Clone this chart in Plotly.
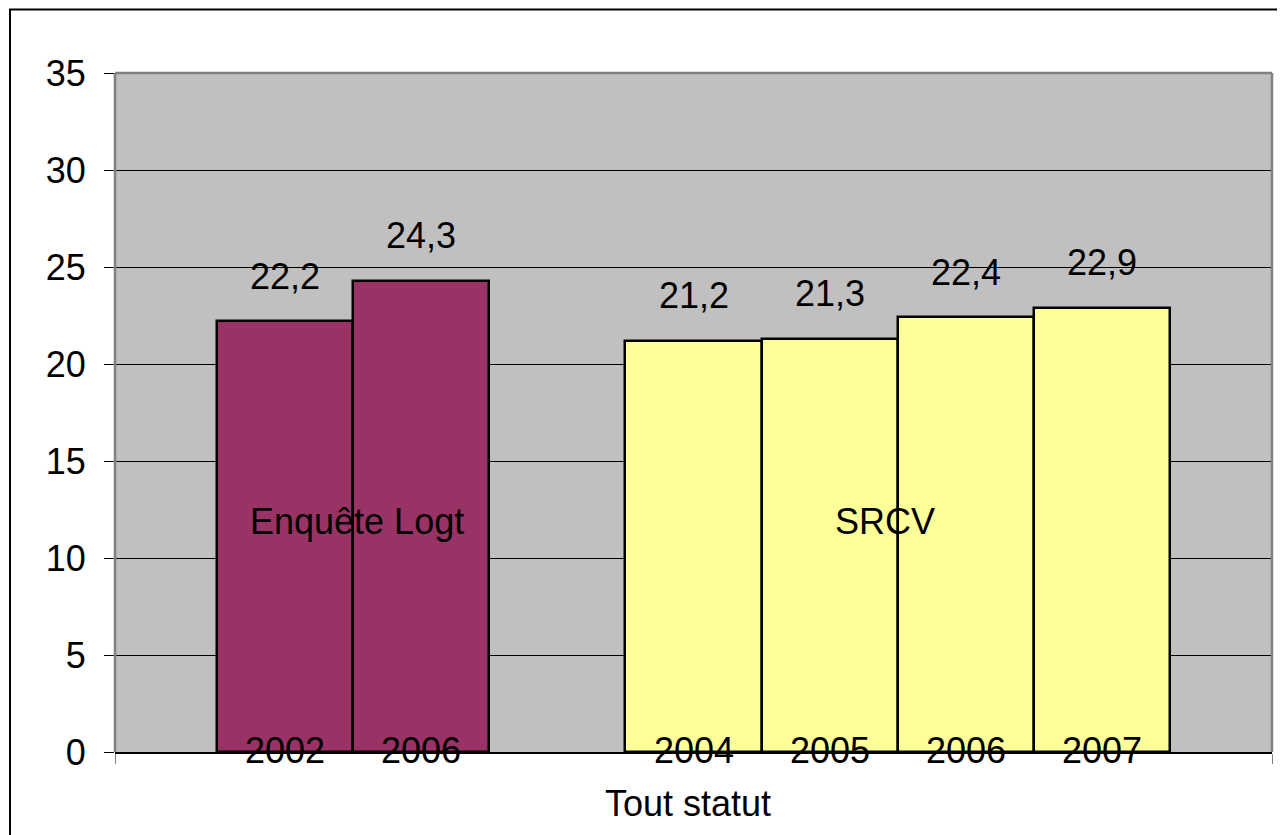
import plotly.graph_objects as go

# ---- data ----
group_names = ["Enquête Logt", "SRCV"]
logt_years = ["2002", "2006"]
logt_values = [22.2, 24.3]
srcv_years = ["2004", "2005", "2006", "2007"]
srcv_values = [21.2, 21.3, 22.4, 22.9]
x_title = "Tout statut"
y_ticks = [0, 5, 10, 15, 20, 25, 30, 35]

# ---- layout geometry (pixels, reference frame) ----
OFF = 8  # page body margin
W, H = 1285 - OFF, 835 - OFF
L, R, T, B = 115 - OFF, 1272 - OFF, 73 - OFF, 752 - OFF
pw, ph = R - L, B - T
x_lo, x_hi = -1.245, 7.245

def px_to_x(px):
    return x_lo + (px - OFF - L) / pw * (x_hi - x_lo)

FONT = "Liberation Sans, Arial, sans-serif"
FS = 36

logt_x = [0, 1]
srcv_x = [3, 4, 5, 6]

fig = go.Figure()
fig.add_trace(go.Bar(x=logt_x, y=logt_values, width=1,
                     marker=dict(color="#993366", line=dict(color="black", width=2.5)),
                     hoverinfo="skip", showlegend=False))
fig.add_trace(go.Bar(x=srcv_x, y=srcv_values, width=1,
                     marker=dict(color="#FFFF99", line=dict(color="black", width=2.5)),
                     hoverinfo="skip", showlegend=False))

ann = []
def fmt(v):
    return f"{v:.1f}".replace(".", ",")

for xs, vals, yrs in [(logt_x, logt_values, logt_years), (srcv_x, srcv_values, srcv_years)]:
    for xv, v, yr in zip(xs, vals, yrs):
        ann.append(dict(x=xv, y=v, text=fmt(v), showarrow=False, yshift=45,
                        yanchor="middle", font=dict(size=FS, color="black", family=FONT)))
        ann.append(dict(x=xv, y=0, text=yr, showarrow=False, yshift=2,
                        yanchor="middle", font=dict(size=FS, color="black", family=FONT)))

ann.append(dict(x=px_to_x(357), y=11.86, text=group_names[0], showarrow=False,
                font=dict(size=FS, color="black", family=FONT)))
ann.append(dict(x=px_to_x(885), y=11.86, text=group_names[1], showarrow=False,
                font=dict(size=FS, color="black", family=FONT)))
ann.append(dict(xref="paper", yref="paper", x=(688 - OFF - L) / pw, y=-(803 - OFF - B) / ph,
                text=x_title, showarrow=False, yanchor="middle",
                font=dict(size=FS, color="black", family=FONT)))

shapes = [
    # plot area border (gray) left, top, right
    dict(type="line", xref="paper", yref="paper", x0=0, x1=0, y0=0, y1=1,
         line=dict(color="#808080", width=2.5)),
    dict(type="line", xref="paper", yref="paper", x0=0, x1=1, y0=1, y1=1,
         line=dict(color="#808080", width=2.5)),
    dict(type="line", xref="paper", yref="paper", x0=1, x1=1, y0=0, y1=1,
         line=dict(color="#808080", width=2.5)),
    # outer chart border
    dict(type="rect", xref="paper", yref="paper",
         x0=(10 - OFF - L) / pw, x1=(W + 30 - L) / pw,
         y0=-(H + 30 - B) / ph, y1=(B - 1.5) / ph,
         line=dict(color="black", width=2), layer="below"),
]

fig.update_layout(
    width=W, height=H,
    margin=dict(l=L, r=W - R, t=T, b=H - B),
    paper_bgcolor="white", plot_bgcolor="#C0C0C0",
    bargap=0, showlegend=False,
    font=dict(family=FONT, size=FS, color="black"),
    annotations=ann, shapes=shapes,
    xaxis=dict(range=[x_lo, x_hi], tickvals=[x_lo, x_hi], ticktext=["", ""],
               ticks="outside", ticklen=10, tickcolor="#808080", tickwidth=1,
               showline=True, linecolor="black", linewidth=2,
               showgrid=False, zeroline=False, fixedrange=True),
    yaxis=dict(range=[0, 35], tickvals=y_ticks, ticks="outside", ticklen=10,
               tickcolor="black", tickwidth=1, ticklabelstandoff=11,
               tickfont=dict(size=FS, family=FONT, color="black"),
               showgrid=True, gridcolor="black", gridwidth=1,
               zeroline=False, showline=False, fixedrange=True),
)

fig.write_html("out.html")
